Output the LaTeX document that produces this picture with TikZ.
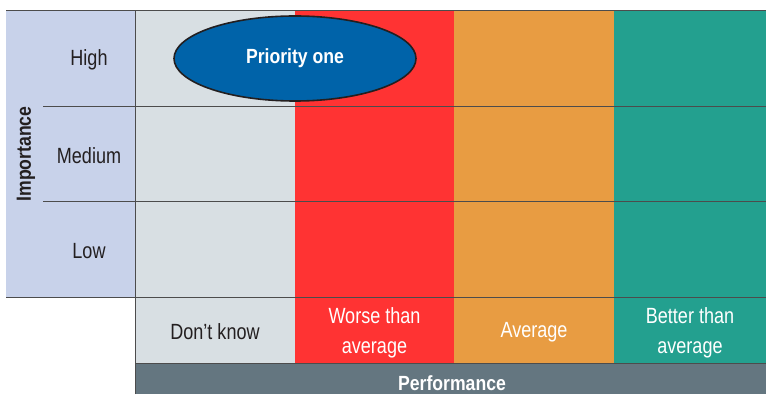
\documentclass[tikz,border=0pt]{standalone}
\usepackage{fontspec}
\setmainfont{Liberation Sans}[FakeStretch=0.82,BoldFeatures={FakeStretch=0.86}]
\usetikzlibrary{shapes.geometric}

\begin{document}
\begin{tikzpicture}[x=1pt,y=1pt,
  celltext/.style={font=\fontsize{22}{30}\selectfont, align=center, inner sep=0pt},
  headtext/.style={font=\fontsize{20.5}{24}\selectfont\bfseries, inner sep=0pt},
  gridline/.style={draw=black!70, line width=0.8pt}]

% colours of the matrix
\definecolor{c1}{HTML}{C8D2EA} % importance column
\definecolor{c2}{HTML}{D8DFE3} % don't know
\definecolor{c3}{HTML}{FF3333} % worse
\definecolor{c4}{HTML}{E89C42} % average
\definecolor{c5}{HTML}{23A08F} % better
\definecolor{c6}{HTML}{647680} % performance bar
\definecolor{c7}{HTML}{0063A9} % priority
\definecolor{ink}{HTML}{231F20}

\useasboundingbox (0,0) rectangle (766,394);

%% the coloured columns
\fill[c1] (6,97) rectangle (135,384);
\fill[c2] (135,31) rectangle (295,384);
\fill[c3] (295,31) rectangle (454,384);
\fill[c4] (454,31) rectangle (614,384);
\fill[c5] (614,31) rectangle (766,384);
\fill[c6] (135,0) rectangle (766,31);

%% the grid
\draw[gridline] (6,384) -- (766,384);
\draw[gridline] (43,288) -- (766,288);
\draw[gridline] (43,193) -- (766,193);
\draw[gridline] (6,97) -- (766,97);
\draw[gridline] (135,31) -- (766,31);
\draw[gridline] (135,0) -- (135,384);

%% importance axis
\node[headtext,text=ink,rotate=90] (imp) at (26,240) {Importance};
\node[celltext,text=ink] (high) at (89,334) {High};
\node[celltext,text=ink] (medium) at (89,238.5) {Medium};
\node[celltext,text=ink] (low) at (89,143) {Low};

%% performance axis
\node[celltext,text=ink] (dk) at (215,62) {Don’t know};
\node[celltext,text=white] (worse) at (374.5,61) {Worse than\\average};
\node[celltext,text=white] (avg) at (534,62) {Average};
\node[celltext,text=white] (better) at (690,61) {Better than\\average};
\node[headtext,text=white] (perf) at (452,11) {Performance};

%% priority
\node[ellipse,draw=ink,line width=1.6pt,fill=c7,minimum width=242,minimum height=85,
  headtext,text=white] (prio) at (295,335.5) {Priority one};
\end{tikzpicture}
\end{document}
